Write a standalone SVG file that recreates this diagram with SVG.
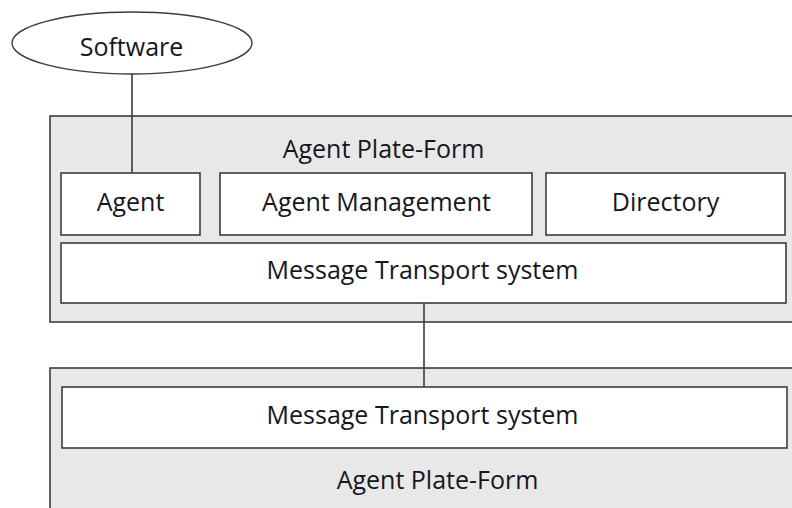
<svg xmlns="http://www.w3.org/2000/svg" width="792" height="508" viewBox="0 0 792 508">
<style>
.plate{fill:#e8e8e8;stroke:#3c3c3c;stroke-width:1.6}
.box{fill:#ffffff;stroke:#3c3c3c;stroke-width:1.6}
.ell{fill:#ffffff;stroke:#3c3c3c;stroke-width:1.4}
.conn{stroke:#3c3c3c;stroke-width:1.6;fill:none}
text{font-family:"Open Sans","Noto Sans","DejaVu Sans",sans-serif;font-size:25px;fill:#16161e;text-anchor:middle}
</style>
<rect width="792" height="508" fill="#ffffff"/>
<g id="plate-top">
<rect class="plate" x="50" y="116" width="760" height="206"/>
<text x="383.5" y="158">Agent Plate-Form</text>
</g>
<g id="plate-bottom">
<rect class="plate" x="50" y="368" width="760" height="160"/>
<text x="437.5" y="489">Agent Plate-Form</text>
</g>
<g id="software">
<ellipse class="ell" cx="132" cy="43" rx="120" ry="31"/>
<text x="131.5" y="56">Software</text>
</g>
<g id="agent">
<rect class="box" x="61" y="173" width="139" height="62"/>
<text x="130.5" y="211">Agent</text>
</g>
<g id="agent-management">
<rect class="box" x="220" y="173" width="312" height="62"/>
<text x="376.5" y="211">Agent Management</text>
</g>
<g id="directory">
<rect class="box" x="546" y="173" width="239" height="62"/>
<text x="665.5" y="211">Directory</text>
</g>
<g id="mts-top">
<rect class="box" x="61" y="243" width="725" height="60"/>
<text x="422.5" y="279">Message Transport system</text>
</g>
<g id="mts-bottom">
<rect class="box" x="62" y="387" width="725" height="61"/>
<text x="422.5" y="424">Message Transport system</text>
</g>
<g id="connectors">
<line class="conn" x1="132" y1="74" x2="132" y2="173"/>
<line class="conn" x1="424" y1="303" x2="424" y2="387"/>
</g>
</svg>
